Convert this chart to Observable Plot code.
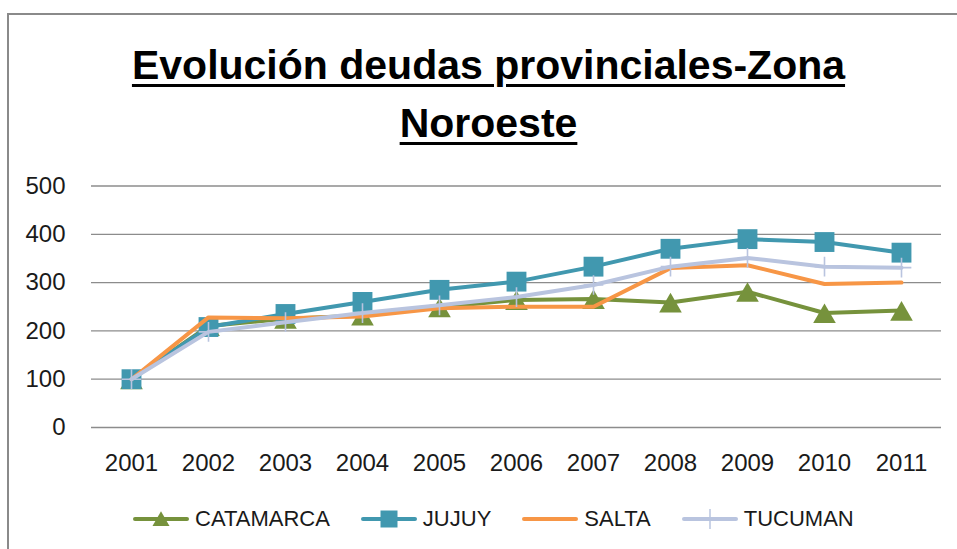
<!DOCTYPE html>
<html><head><meta charset="utf-8">
<script src="https://cdn.jsdelivr.net/npm/d3@7"></script>
<script src="https://cdn.jsdelivr.net/npm/@observablehq/plot@0.6"></script>
<style>
body{margin:0;background:#fff;}
#c{position:relative;width:957px;height:549px;overflow:hidden;background:#fff;font-family:"Liberation Sans",Arial,sans-serif;}
#bt{position:absolute;left:7px;top:13px;width:950px;height:2px;background:#8a8a8a;}
#bl{position:absolute;left:7px;top:13px;width:2px;height:536px;background:#8a8a8a;}
#title{position:absolute;left:0;top:36px;width:977px;text-align:center;font-weight:bold;font-size:41px;line-height:58px;color:#000;
  text-decoration:underline;text-decoration-thickness:3px;text-underline-offset:5px;}
#plot{position:absolute;left:0;top:160px;}
#legend{position:absolute;left:133px;top:506px;display:flex;gap:31px;align-items:center;font-size:22px;color:#1a1a1a;}
.item{display:flex;align-items:center;}
.item svg{margin-right:6px;}
</style></head><body>
<div id="c"><div id="bt"></div><div id="bl"></div>
<div id="title">Evolución deudas provinciales-Zona<br>Noroeste</div>
<div id="plot"></div><div id="legend"></div></div>
<script>
const years = ["2001","2002","2003","2004","2005","2006","2007","2008","2009","2010","2011"];
const catamarca = [100, 210, 225, 232, 249, 264, 266, 259, 281, 237, 242];
const jujuy     = [100, 208, 235, 260, 285, 302, 333, 370, 390, 384, 362];
const salta     = [100, 228, 226, 230, 247, 250, 250, 330, 336, 297, 300];
const tucuman   = [100, 198, 218, 237, 253, 270, 295, 333, 351, 333, 331];
const seriesNames = ["CATAMARCA", "JUJUY", "SALTA", "TUCUMAN"];
const seriesColors = ["#76923c", "#4198af", "#f79646", "#b9c4df"];
const yTicks = [0, 100, 200, 300, 400, 500];

const values = [catamarca, jujuy, salta, tucuman];
const rows = (i) => years.map((yr, j) => ({year: yr, value: values[i][j], series: seriesNames[i]}));

const marks = [
  Plot.ruleY(yTicks, {stroke: "#8c8c8c", strokeWidth: 1.3}),
  Plot.axisY({ticks: yTicks, tickSize: 0, tickPadding: 26, fontSize: 24, fill: "#1a1a1a"}),
  Plot.axisX({tickSize: 0, tickPadding: 26, fontSize: 24, fill: "#1a1a1a"})
];
// CATAMARCA
marks.push(Plot.line(rows(0), {x: "year", y: "value", stroke: seriesColors[0], strokeWidth: 4, strokeLinejoin: "round"}));
marks.push(Plot.dot(rows(0), {x: "year", y: "value", symbol: "triangle", r: 8.4, dy: 3.5, fill: seriesColors[0], stroke: "none"}));
// JUJUY
marks.push(Plot.line(rows(1), {x: "year", y: "value", stroke: seriesColors[1], strokeWidth: 4, strokeLinejoin: "round"}));
marks.push(Plot.dot(rows(1), {x: "year", y: "value", symbol: "square", r: 11.2, fill: seriesColors[1], stroke: "none"}));
// SALTA
marks.push(Plot.line(rows(2), {x: "year", y: "value", stroke: seriesColors[2], strokeWidth: 4, strokeLinejoin: "round", strokeLinecap: "round"}));
// TUCUMAN
marks.push(Plot.line(rows(3), {x: "year", y: "value", stroke: seriesColors[3], strokeWidth: 4, strokeLinejoin: "round"}));
marks.push(Plot.dot(rows(3), {x: "year", y: "value", symbol: "plus", r: 6.4, stroke: seriesColors[3], strokeWidth: 1.6, fill: "none"}));

const chart = Plot.plot({
  width: 957, height: 320,
  marginLeft: 91, marginRight: 16, marginTop: 25.5, marginBottom: 53,
  style: {fontFamily: "'Liberation Sans', Arial, sans-serif", fontSize: "24px", background: "transparent"},
  x: {type: "point", domain: years, padding: 0.5, label: null},
  y: {domain: [0, 500], label: null},
  marks
});
document.getElementById("plot").appendChild(chart);

// legend
const legend = document.getElementById("legend");
const symFor = {CATAMARCA: "triangle", JUJUY: "square", SALTA: null, TUCUMAN: "plus"};
seriesNames.forEach((name, i) => {
  const item = document.createElement("div");
  item.className = "item";
  const svg = d3.create("svg").attr("width", 56).attr("height", 26);
  svg.append("line").attr("x1", 2).attr("x2", 54).attr("y1", 13).attr("y2", 13)
    .attr("stroke", seriesColors[i]).attr("stroke-width", 4).attr("stroke-linecap", "round");
  const s = symFor[name];
  if (s === "triangle") {
    svg.append("path").attr("transform", "translate(28,15)").attr("d", d3.symbol(d3.symbolTriangle, 125)()).attr("fill", seriesColors[i]);
  } else if (s === "square") {
    svg.append("path").attr("transform", "translate(28,13)").attr("d", d3.symbol(d3.symbolSquare, 289)()).attr("fill", seriesColors[i]);
  } else if (s === "plus") {
    svg.append("line").attr("x1", 28).attr("x2", 28).attr("y1", 3).attr("y2", 23).attr("stroke", seriesColors[i]).attr("stroke-width", 1.5);
  }
  item.appendChild(svg.node());
  const t = document.createElement("span");
  t.textContent = name;
  item.appendChild(t);
  legend.appendChild(item);
});
</script>
</body></html>
